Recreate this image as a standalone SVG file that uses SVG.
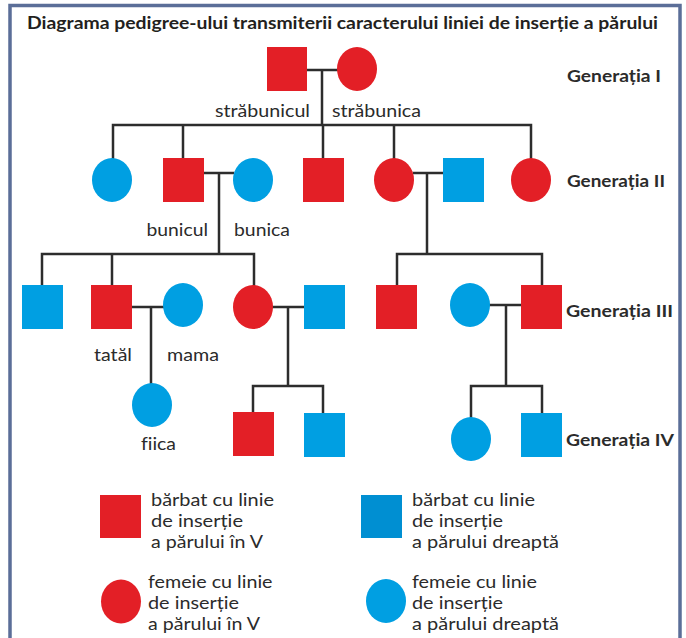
<svg xmlns="http://www.w3.org/2000/svg" width="686" height="638" viewBox="0 0 686 638">
<style>
.r{fill:#e31f26}
.b{fill:#009fe2}
.bd{fill:#008fd2}
.ln{stroke:#2d2d2d;stroke-width:2.5;fill:none;stroke-linecap:square}
text{font-variant-ligatures:none}
.t{font-family:Lato,"Open Sans","Liberation Sans",sans-serif;font-size:17px;fill:#2b2b2b}
.g{font-family:Lato,"Open Sans","Liberation Sans",sans-serif;font-size:17.5px;font-weight:bold;fill:#2b2b2b}
.h{font-family:Lato,"Open Sans","Liberation Sans",sans-serif;font-size:16.5px;font-weight:bold;fill:#231f20}
</style>
<rect width="686" height="638" fill="#ffffff"/>
<rect x="10" y="5.5" width="670" height="700" fill="none" stroke="#5b6e98" stroke-width="3.5"/>
<text class="h" x="27" y="28.5" textLength="631" lengthAdjust="spacingAndGlyphs">Diagrama pedigree-ului transmiterii caracterului liniei de inserție a părului</text>

<g id="connectors">
<path class="ln" d="M307 70H337M322 70V125M113 125H531M113 125V158M183 125V158M323 125V158M394 125V158M531 125V158"/>
<path class="ln" d="M204 173H233M219 173V254M42 254H254M42 254V285M112 254V285M254 254V285"/>
<path class="ln" d="M414 173H443M427 173V254M397 254H542M397 254V285M542 254V285"/>
<path class="ln" d="M132 307H163M151 307V383"/>
<path class="ln" d="M273 307H304M288 307V386M253 386H323M253 386V412M323 386V413"/>
<path class="ln" d="M490 305H521M506 305V386M471 386H542M471 386V417M542 386V413"/>
</g>

<g id="strabunicul"><rect class="r" x="267" y="47" width="40" height="44"/><text class="t" x="215" y="117" textLength="95" lengthAdjust="spacingAndGlyphs">străbunicul</text></g>
<g id="strabunica"><ellipse class="r" cx="357" cy="69" rx="20" ry="22"/><text class="t" x="332" y="117" textLength="89" lengthAdjust="spacingAndGlyphs">străbunica</text></g>
<g id="gen1-label"><text class="g" x="567" y="82" textLength="94" lengthAdjust="spacingAndGlyphs">Generația I</text></g>

<g id="g2a"><ellipse class="b" cx="112" cy="180" rx="20" ry="22"/></g>
<g id="bunicul"><rect class="r" x="163" y="158" width="41" height="44"/><text class="t" x="146.5" y="236" textLength="61.5" lengthAdjust="spacingAndGlyphs">bunicul</text></g>
<g id="bunica"><ellipse class="b" cx="253" cy="180" rx="20" ry="22"/><text class="t" x="234" y="236" textLength="56" lengthAdjust="spacingAndGlyphs">bunica</text></g>
<g id="g2d"><rect class="r" x="303" y="158" width="41" height="44"/></g>
<g id="g2e"><ellipse class="r" cx="394" cy="180" rx="20" ry="22"/></g>
<g id="g2f"><rect class="b" x="443" y="158" width="41" height="44"/></g>
<g id="g2g"><ellipse class="r" cx="531" cy="180" rx="20" ry="22"/></g>
<g id="gen2-label"><text class="g" x="567" y="187" textLength="98" lengthAdjust="spacingAndGlyphs">Generația II</text></g>

<g id="g3a"><rect class="b" x="22" y="285" width="41" height="44"/></g>
<g id="tatal"><rect class="r" x="91" y="285" width="41" height="44"/><text class="t" x="94" y="361" textLength="38" lengthAdjust="spacingAndGlyphs">tatăl</text></g>
<g id="mama"><ellipse class="b" cx="183" cy="305" rx="20" ry="22"/><text class="t" x="167" y="361" textLength="52" lengthAdjust="spacingAndGlyphs">mama</text></g>
<g id="g3d"><ellipse class="r" cx="253" cy="307" rx="20" ry="22"/></g>
<g id="g3e"><rect class="b" x="304" y="285" width="41" height="44"/></g>
<g id="g3f"><rect class="r" x="376" y="285" width="41" height="44"/></g>
<g id="g3g"><ellipse class="b" cx="470" cy="305" rx="20" ry="22"/></g>
<g id="g3h"><rect class="r" x="521" y="285" width="41" height="44"/></g>
<g id="gen3-label"><text class="g" x="566" y="317" textLength="107" lengthAdjust="spacingAndGlyphs">Generația III</text></g>

<g id="fiica"><ellipse class="b" cx="152" cy="405" rx="20" ry="22"/><text class="t" x="141" y="450" textLength="35" lengthAdjust="spacingAndGlyphs">fiica</text></g>
<g id="g4a"><rect class="r" x="233" y="412" width="41" height="44"/></g>
<g id="g4b"><rect class="b" x="304" y="413" width="41" height="44"/></g>
<g id="g4c"><ellipse class="b" cx="471" cy="439" rx="20" ry="22"/></g>
<g id="g4d"><rect class="b" x="521" y="413" width="41" height="44"/></g>
<g id="gen4-label"><text class="g" x="566" y="446" textLength="108" lengthAdjust="spacingAndGlyphs">Generația IV</text></g>

<g id="legend-male-v"><rect class="r" x="100" y="495" width="41" height="43"/>
<text class="t" x="151" y="506" textLength="123" lengthAdjust="spacingAndGlyphs">bărbat cu linie</text>
<text class="t" x="151" y="527" textLength="92" lengthAdjust="spacingAndGlyphs">de inserție</text>
<text class="t" x="151" y="548" textLength="112" lengthAdjust="spacingAndGlyphs">a părului în V</text></g>
<g id="legend-male-straight"><rect class="bd" x="361" y="495" width="41" height="43"/>
<text class="t" x="412" y="506" textLength="123" lengthAdjust="spacingAndGlyphs">bărbat cu linie</text>
<text class="t" x="412" y="527" textLength="91" lengthAdjust="spacingAndGlyphs">de inserție</text>
<text class="t" x="412" y="548" textLength="147" lengthAdjust="spacingAndGlyphs">a părului dreaptă</text></g>
<g id="legend-female-v"><ellipse class="r" cx="121" cy="601.5" rx="20" ry="22"/>
<text class="t" x="148" y="588" textLength="124.5" lengthAdjust="spacingAndGlyphs">femeie cu linie</text>
<text class="t" x="148" y="609" textLength="91" lengthAdjust="spacingAndGlyphs">de inserție</text>
<text class="t" x="148" y="630" textLength="112" lengthAdjust="spacingAndGlyphs">a părului în V</text></g>
<g id="legend-female-straight"><ellipse class="b" cx="386" cy="601" rx="20" ry="22"/>
<text class="t" x="412" y="588" textLength="125" lengthAdjust="spacingAndGlyphs">femeie cu linie</text>
<text class="t" x="412" y="609" textLength="91" lengthAdjust="spacingAndGlyphs">de inserție</text>
<text class="t" x="412" y="630" textLength="147" lengthAdjust="spacingAndGlyphs">a părului dreaptă</text></g>
</svg>
